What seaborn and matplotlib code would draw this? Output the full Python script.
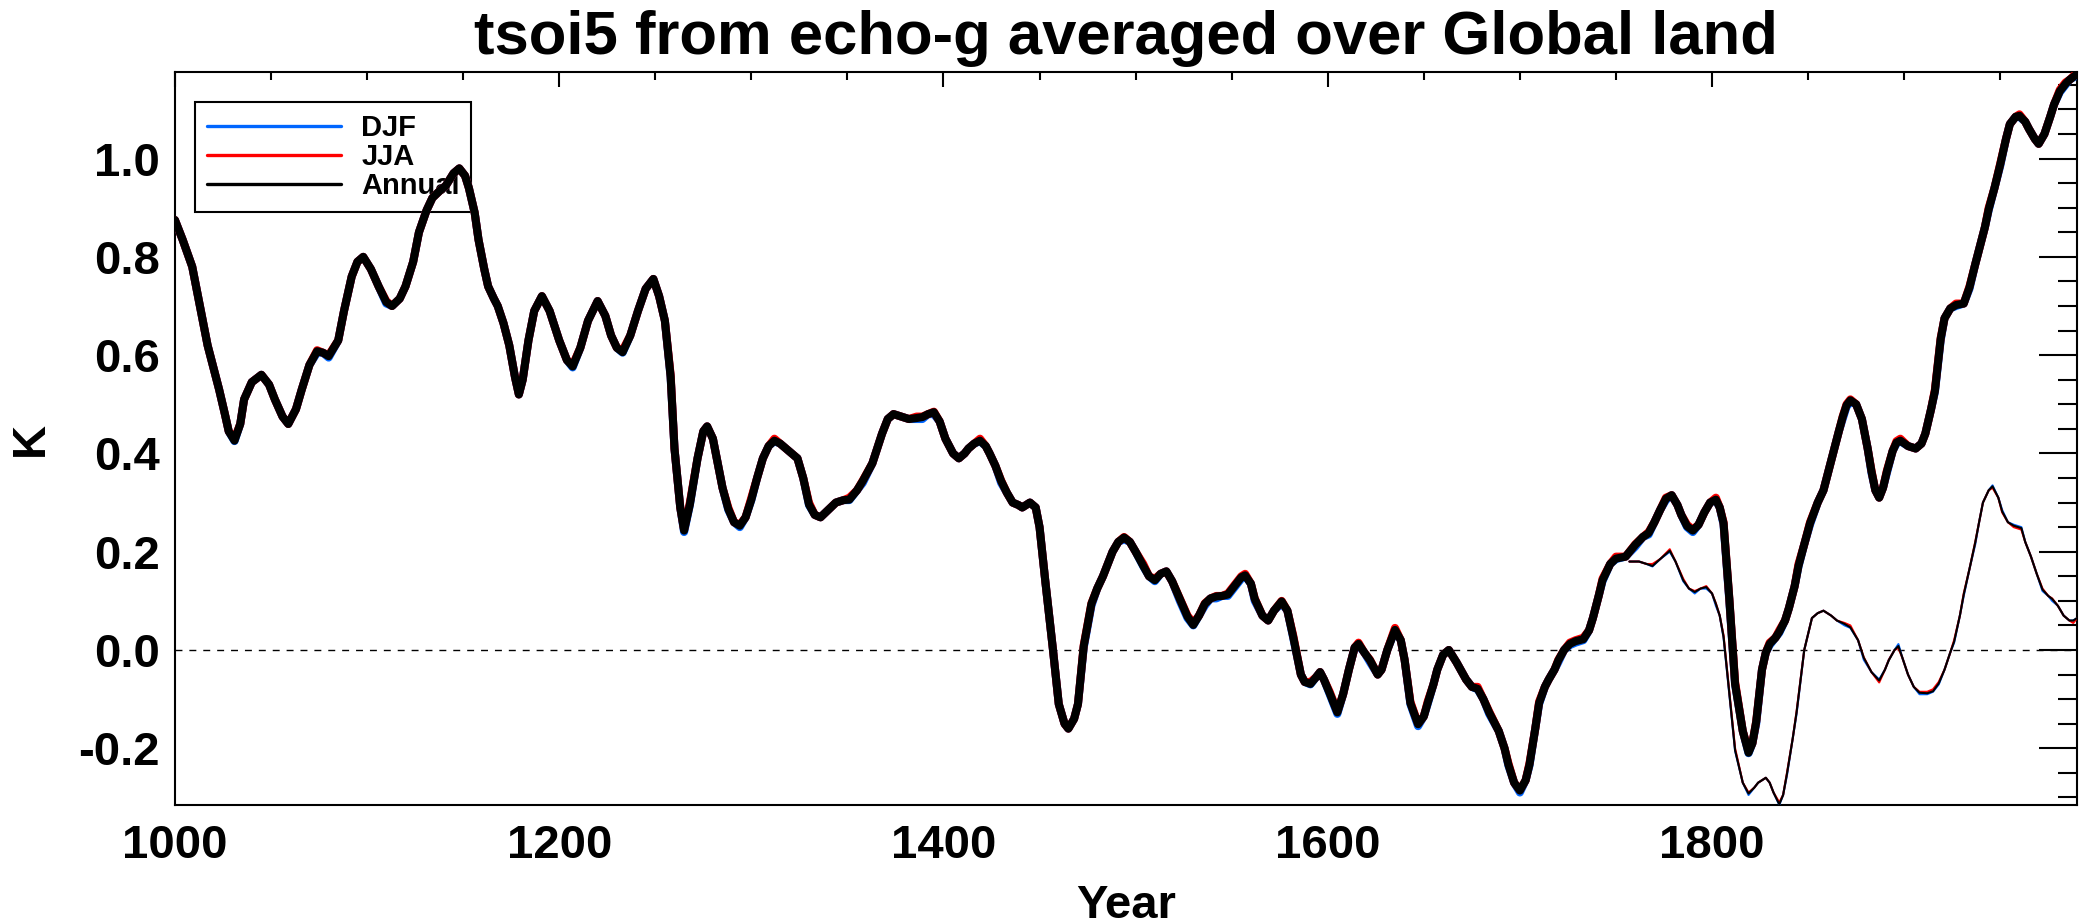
import seaborn as sns
import matplotlib.pyplot as plt
from matplotlib.lines import Line2D
from matplotlib.ticker import MultipleLocator, FormatStrFormatter

# thick curves: full period
years = [
    1000, 1004, 1009, 1013, 1017, 1020, 1023, 1026, 1028, 1031,
    1034, 1036, 1040, 1045, 1049, 1052, 1056, 1059, 1063, 1066,
    1070, 1074, 1077, 1080, 1085, 1088, 1092, 1095, 1098, 1102,
    1106, 1110, 1113, 1117, 1120, 1124, 1127, 1131, 1134, 1138,
    1141, 1145, 1148, 1151, 1153, 1156, 1158, 1161, 1163, 1166,
    1168, 1171, 1174, 1177, 1179, 1181, 1184, 1187, 1191, 1195,
    1200, 1204, 1207, 1211, 1215, 1220, 1224, 1227, 1230, 1233,
    1237, 1241, 1245, 1249, 1252, 1255, 1258, 1260, 1263, 1265,
    1268, 1272, 1275, 1277, 1280, 1282, 1285, 1288, 1291, 1294,
    1297, 1300, 1303, 1306, 1309, 1312, 1315, 1318, 1321, 1324,
    1327, 1330, 1333, 1336, 1340, 1344, 1348, 1351, 1355, 1358,
    1363, 1368, 1371, 1374, 1378, 1382, 1386, 1389, 1392, 1395,
    1398, 1401, 1405, 1408, 1411, 1413, 1416, 1419, 1422, 1424,
    1427, 1430, 1433, 1436, 1439, 1441, 1445, 1448, 1450, 1453,
    1457, 1460, 1463, 1465, 1468, 1470, 1473, 1477, 1480, 1483,
    1488, 1491, 1494, 1497, 1500, 1504, 1507, 1510, 1513, 1516,
    1519, 1523, 1527, 1530, 1533, 1536, 1539, 1542, 1545, 1548,
    1552, 1555, 1557, 1560, 1562, 1566, 1569, 1572, 1576, 1579,
    1582, 1586, 1588, 1591, 1594, 1596, 1598, 1601, 1605, 1608,
    1611, 1614, 1616, 1619, 1622, 1626, 1628, 1631, 1635, 1638,
    1640, 1643, 1647, 1650, 1652, 1655, 1657, 1660, 1663, 1667,
    1672, 1675, 1678, 1681, 1684, 1689, 1692, 1694, 1697, 1700,
    1703, 1705, 1708, 1710, 1713, 1715, 1718, 1720, 1723, 1726,
    1729, 1733, 1736, 1738, 1741, 1743, 1747, 1750, 1755, 1760,
    1764, 1767, 1770, 1773, 1776, 1779, 1782, 1784, 1787, 1790,
    1793, 1796, 1799, 1802, 1804, 1806, 1809, 1812, 1816, 1819,
    1821, 1823, 1826, 1828, 1830, 1833, 1835, 1838, 1840, 1843,
    1845, 1848, 1851, 1855, 1858, 1861, 1863, 1866, 1868, 1870,
    1872, 1875, 1878, 1881, 1883, 1885, 1887, 1889, 1891, 1894,
    1896, 1898, 1902, 1906, 1909, 1911, 1914, 1916, 1919, 1921,
    1924, 1927, 1931, 1934, 1937, 1939, 1942, 1944, 1947, 1950,
    1953, 1955, 1958, 1960, 1963, 1965, 1968, 1970, 1973, 1976,
    1978, 1981, 1984, 1986, 1990,
]

annual = [
    0.875, 0.835, 0.78, 0.70, 0.62, 0.575, 0.53, 0.48, 0.445, 0.426,
    0.46, 0.51, 0.545, 0.56, 0.54, 0.51, 0.475, 0.46, 0.49, 0.53,
    0.58, 0.608, 0.605, 0.598, 0.63, 0.69, 0.76, 0.79, 0.80, 0.775,
    0.74, 0.708, 0.70, 0.715, 0.74, 0.79, 0.85, 0.895, 0.92, 0.935,
    0.945, 0.97, 0.98, 0.965, 0.94, 0.89, 0.835, 0.775, 0.74, 0.715,
    0.70, 0.665, 0.62, 0.555, 0.52, 0.55, 0.63, 0.69, 0.72, 0.69,
    0.63, 0.59, 0.577, 0.615, 0.67, 0.71, 0.68, 0.64, 0.615, 0.606,
    0.64, 0.69, 0.735, 0.755, 0.72, 0.67, 0.556, 0.41, 0.29, 0.243,
    0.296, 0.39, 0.445, 0.455, 0.43, 0.39, 0.33, 0.287, 0.26, 0.253,
    0.27, 0.306, 0.35, 0.39, 0.415, 0.426, 0.42, 0.41, 0.40, 0.39,
    0.35, 0.296, 0.275, 0.27, 0.285, 0.30, 0.305, 0.306, 0.325, 0.344,
    0.38, 0.44, 0.47, 0.48, 0.475, 0.47, 0.472, 0.474, 0.48, 0.484,
    0.465, 0.43, 0.40, 0.39, 0.40, 0.41, 0.42, 0.426, 0.415, 0.40,
    0.375, 0.344, 0.32, 0.30, 0.295, 0.29, 0.30, 0.29, 0.25, 0.14,
    0.0, -0.11, -0.15, -0.16, -0.14, -0.11, 0.008, 0.094, 0.125, 0.15,
    0.20, 0.22, 0.229, 0.22, 0.20, 0.171, 0.15, 0.142, 0.155, 0.16,
    0.14, 0.104, 0.068, 0.051, 0.07, 0.094, 0.105, 0.109, 0.11, 0.113,
    0.133, 0.148, 0.152, 0.135, 0.104, 0.07, 0.06, 0.08, 0.099, 0.08,
    0.027, -0.05, -0.065, -0.069, -0.055, -0.045, -0.06, -0.088, -0.127, -0.09,
    -0.04, 0.005, 0.0125, -0.005, -0.021, -0.05, -0.04, 0.0, 0.041, 0.02,
    -0.02, -0.108, -0.151, -0.135, -0.108, -0.07, -0.04, -0.01, 0.0, -0.025,
    -0.06, -0.075, -0.079, -0.10, -0.127, -0.165, -0.20, -0.233, -0.27, -0.286,
    -0.265, -0.233, -0.16, -0.108, -0.075, -0.06, -0.04, -0.021, 0.0, 0.0125,
    0.018, 0.022, 0.04, 0.065, 0.11, 0.142, 0.175, 0.186, 0.19, 0.214,
    0.23, 0.238, 0.26, 0.285, 0.308, 0.315, 0.295, 0.275, 0.252, 0.243,
    0.255, 0.28, 0.30, 0.306, 0.29, 0.258, 0.104, -0.069, -0.165, -0.209,
    -0.19, -0.146, -0.04, -0.005, 0.0125, 0.025, 0.037, 0.06, 0.085, 0.13,
    0.171, 0.215, 0.258, 0.30, 0.325, 0.37, 0.40, 0.445, 0.474, 0.498,
    0.508, 0.50, 0.47, 0.41, 0.363, 0.325, 0.31, 0.33, 0.363, 0.405,
    0.422, 0.426, 0.415, 0.41, 0.42, 0.44, 0.49, 0.527, 0.633, 0.675,
    0.695, 0.702, 0.705, 0.738, 0.785, 0.815, 0.86, 0.897, 0.94, 0.988,
    1.04, 1.07, 1.085, 1.087, 1.075, 1.06, 1.04, 1.03, 1.05, 1.085,
    1.11, 1.137, 1.152, 1.16, 1.172,
]

djf = [
    0.875, 0.835, 0.78, 0.70, 0.62, 0.575, 0.53, 0.48, 0.445, 0.425,
    0.46, 0.51, 0.545, 0.56, 0.54, 0.51, 0.475, 0.46, 0.49, 0.53,
    0.58, 0.605, 0.605, 0.595, 0.63, 0.69, 0.76, 0.79, 0.80, 0.775,
    0.74, 0.705, 0.70, 0.715, 0.74, 0.79, 0.85, 0.895, 0.92, 0.935,
    0.945, 0.97, 0.98, 0.965, 0.94, 0.89, 0.835, 0.775, 0.74, 0.715,
    0.70, 0.665, 0.62, 0.555, 0.52, 0.55, 0.63, 0.69, 0.72, 0.69,
    0.63, 0.59, 0.575, 0.615, 0.67, 0.71, 0.68, 0.64, 0.615, 0.605,
    0.64, 0.69, 0.735, 0.755, 0.72, 0.67, 0.555, 0.41, 0.29, 0.24,
    0.295, 0.39, 0.445, 0.455, 0.43, 0.39, 0.33, 0.285, 0.26, 0.25,
    0.27, 0.305, 0.35, 0.39, 0.415, 0.425, 0.42, 0.41, 0.40, 0.39,
    0.35, 0.295, 0.275, 0.27, 0.285, 0.30, 0.305, 0.305, 0.325, 0.34,
    0.38, 0.44, 0.47, 0.48, 0.475, 0.47, 0.47, 0.47, 0.48, 0.48,
    0.465, 0.43, 0.40, 0.39, 0.40, 0.41, 0.42, 0.425, 0.415, 0.40,
    0.375, 0.34, 0.32, 0.30, 0.295, 0.29, 0.30, 0.29, 0.25, 0.14,
    0.0, -0.11, -0.15, -0.16, -0.14, -0.11, 0.005, 0.09, 0.125, 0.15,
    0.20, 0.22, 0.225, 0.22, 0.20, 0.17, 0.15, 0.14, 0.155, 0.16,
    0.14, 0.10, 0.065, 0.05, 0.07, 0.09, 0.105, 0.105, 0.11, 0.11,
    0.13, 0.145, 0.15, 0.135, 0.10, 0.07, 0.06, 0.08, 0.095, 0.08,
    0.025, -0.05, -0.065, -0.07, -0.055, -0.045, -0.06, -0.09, -0.13, -0.09,
    -0.04, 0.005, 0.01, -0.005, -0.025, -0.05, -0.04, 0.0, 0.04, 0.02,
    -0.02, -0.11, -0.155, -0.135, -0.11, -0.07, -0.04, -0.01, 0.0, -0.025,
    -0.06, -0.075, -0.08, -0.10, -0.13, -0.165, -0.20, -0.235, -0.27, -0.29,
    -0.265, -0.235, -0.16, -0.11, -0.075, -0.06, -0.04, -0.025, 0.0, 0.01,
    0.015, 0.02, 0.04, 0.065, 0.11, 0.14, 0.175, 0.185, 0.19, 0.21,
    0.23, 0.235, 0.26, 0.285, 0.305, 0.315, 0.295, 0.275, 0.25, 0.24,
    0.255, 0.28, 0.30, 0.305, 0.29, 0.255, 0.10, -0.07, -0.165, -0.21,
    -0.19, -0.15, -0.04, -0.005, 0.01, 0.025, 0.035, 0.06, 0.085, 0.13,
    0.17, 0.215, 0.255, 0.30, 0.325, 0.37, 0.40, 0.445, 0.47, 0.495,
    0.505, 0.50, 0.47, 0.41, 0.36, 0.325, 0.31, 0.33, 0.36, 0.405,
    0.42, 0.425, 0.415, 0.41, 0.42, 0.44, 0.49, 0.525, 0.63, 0.675,
    0.695, 0.70, 0.705, 0.735, 0.785, 0.815, 0.86, 0.895, 0.94, 0.985,
    1.04, 1.07, 1.085, 1.085, 1.075, 1.06, 1.04, 1.03, 1.05, 1.085,
    1.11, 1.135, 1.15, 1.16, 1.17,
]

jja = [
    0.875, 0.835, 0.78, 0.70, 0.62, 0.575, 0.53, 0.48, 0.445, 0.43,
    0.46, 0.51, 0.545, 0.56, 0.54, 0.51, 0.475, 0.46, 0.49, 0.53,
    0.58, 0.61, 0.605, 0.60, 0.63, 0.69, 0.76, 0.79, 0.80, 0.775,
    0.74, 0.71, 0.70, 0.715, 0.74, 0.79, 0.85, 0.895, 0.92, 0.935,
    0.945, 0.97, 0.98, 0.965, 0.94, 0.89, 0.835, 0.775, 0.74, 0.715,
    0.70, 0.665, 0.62, 0.555, 0.52, 0.55, 0.63, 0.69, 0.72, 0.69,
    0.63, 0.59, 0.58, 0.615, 0.67, 0.71, 0.68, 0.64, 0.615, 0.61,
    0.64, 0.69, 0.735, 0.755, 0.72, 0.67, 0.56, 0.41, 0.29, 0.245,
    0.30, 0.39, 0.445, 0.455, 0.43, 0.39, 0.33, 0.29, 0.26, 0.255,
    0.27, 0.31, 0.35, 0.39, 0.415, 0.43, 0.42, 0.41, 0.40, 0.39,
    0.35, 0.30, 0.275, 0.27, 0.285, 0.30, 0.305, 0.31, 0.325, 0.345,
    0.38, 0.44, 0.47, 0.48, 0.475, 0.47, 0.475, 0.475, 0.48, 0.485,
    0.465, 0.43, 0.40, 0.39, 0.40, 0.41, 0.42, 0.43, 0.415, 0.40,
    0.375, 0.345, 0.32, 0.30, 0.295, 0.29, 0.30, 0.29, 0.25, 0.14,
    0.0, -0.11, -0.15, -0.16, -0.14, -0.11, 0.01, 0.095, 0.125, 0.15,
    0.20, 0.22, 0.23, 0.22, 0.20, 0.175, 0.15, 0.145, 0.155, 0.16,
    0.14, 0.105, 0.07, 0.055, 0.07, 0.095, 0.105, 0.11, 0.11, 0.115,
    0.135, 0.15, 0.155, 0.135, 0.105, 0.07, 0.06, 0.08, 0.10, 0.08,
    0.03, -0.05, -0.065, -0.065, -0.055, -0.045, -0.06, -0.085, -0.125, -0.09,
    -0.04, 0.005, 0.015, -0.005, -0.02, -0.05, -0.04, 0.0, 0.045, 0.02,
    -0.02, -0.105, -0.15, -0.135, -0.105, -0.07, -0.04, -0.01, 0.0, -0.025,
    -0.06, -0.075, -0.075, -0.10, -0.125, -0.165, -0.20, -0.23, -0.27, -0.285,
    -0.265, -0.23, -0.16, -0.105, -0.075, -0.06, -0.04, -0.02, 0.0, 0.015,
    0.02, 0.025, 0.04, 0.065, 0.11, 0.145, 0.175, 0.19, 0.19, 0.215,
    0.23, 0.24, 0.26, 0.285, 0.31, 0.315, 0.295, 0.275, 0.255, 0.245,
    0.255, 0.28, 0.30, 0.31, 0.29, 0.26, 0.105, -0.065, -0.165, -0.205,
    -0.19, -0.145, -0.04, -0.005, 0.015, 0.025, 0.04, 0.06, 0.085, 0.13,
    0.175, 0.215, 0.26, 0.30, 0.325, 0.37, 0.40, 0.445, 0.475, 0.50,
    0.51, 0.50, 0.47, 0.41, 0.365, 0.325, 0.31, 0.33, 0.365, 0.405,
    0.425, 0.43, 0.415, 0.41, 0.42, 0.44, 0.49, 0.53, 0.635, 0.675,
    0.695, 0.705, 0.705, 0.74, 0.785, 0.815, 0.86, 0.90, 0.94, 0.99,
    1.04, 1.07, 1.085, 1.09, 1.075, 1.06, 1.04, 1.03, 1.05, 1.085,
    1.11, 1.14, 1.155, 1.16, 1.175,
]

# thin curves: second set, from the mid 18th century
years_thin = [
    1757, 1762, 1766, 1769, 1773, 1778, 1781, 1785, 1788, 1791,
    1794, 1797, 1800, 1802, 1804, 1806, 1809, 1812, 1816, 1819,
    1822, 1824, 1828, 1830, 1832, 1835, 1837, 1839, 1842, 1844,
    1848, 1852, 1855, 1858, 1862, 1865, 1869, 1872, 1876, 1879,
    1883, 1887, 1890, 1892, 1895, 1897, 1899, 1902, 1905, 1908,
    1912, 1915, 1918, 1921, 1924, 1926, 1929, 1931, 1934, 1937,
    1939, 1941, 1944, 1946, 1949, 1951, 1954, 1957, 1961, 1963,
    1966, 1969, 1972, 1975, 1977, 1980, 1983, 1986, 1988, 1990,
]

annual_thin = [
    0.18, 0.18, 0.175, 0.171, 0.185, 0.202, 0.18, 0.142, 0.125, 0.118,
    0.125, 0.128, 0.115, 0.094, 0.07, 0.027, -0.088, -0.204, -0.27, -0.292,
    -0.28, -0.27, -0.26, -0.27, -0.29, -0.314, -0.295, -0.252, -0.18, -0.127,
    0.0, 0.065, 0.075, 0.08, 0.07, 0.06, 0.053, 0.046, 0.02, -0.016,
    -0.045, -0.062, -0.04, -0.021, 0.0, 0.008, -0.015, -0.05, -0.075, -0.087,
    -0.088, -0.084, -0.068, -0.04, -0.005, 0.017, 0.07, 0.113, 0.165, 0.219,
    0.26, 0.30, 0.325, 0.333, 0.31, 0.282, 0.26, 0.253, 0.248, 0.22,
    0.19, 0.155, 0.123, 0.11, 0.104, 0.09, 0.07, 0.06, 0.06, 0.065,
]

djf_thin = [
    0.18, 0.18, 0.175, 0.17, 0.185, 0.20, 0.18, 0.14, 0.125, 0.115,
    0.125, 0.125, 0.115, 0.09, 0.07, 0.025, -0.09, -0.205, -0.27, -0.295,
    -0.28, -0.27, -0.26, -0.27, -0.29, -0.315, -0.295, -0.255, -0.18, -0.13,
    0.0, 0.065, 0.075, 0.08, 0.07, 0.06, 0.05, 0.045, 0.02, -0.02,
    -0.045, -0.06, -0.04, -0.02, 0.0, 0.012, -0.015, -0.05, -0.075, -0.09,
    -0.09, -0.085, -0.07, -0.04, -0.005, 0.015, 0.07, 0.11, 0.165, 0.215,
    0.26, 0.30, 0.325, 0.335, 0.31, 0.285, 0.26, 0.255, 0.25, 0.22,
    0.19, 0.155, 0.12, 0.11, 0.10, 0.09, 0.07, 0.06, 0.06, 0.065,
]

jja_thin = [
    0.18, 0.18, 0.175, 0.175, 0.185, 0.205, 0.18, 0.145, 0.125, 0.12,
    0.125, 0.13, 0.115, 0.095, 0.07, 0.03, -0.085, -0.20, -0.27, -0.29,
    -0.28, -0.27, -0.26, -0.27, -0.29, -0.31, -0.295, -0.25, -0.18, -0.125,
    0.0, 0.065, 0.075, 0.08, 0.07, 0.06, 0.055, 0.05, 0.02, -0.015,
    -0.045, -0.066, -0.04, -0.02, 0.0, 0.004, -0.015, -0.05, -0.075, -0.085,
    -0.085, -0.08, -0.065, -0.04, -0.005, 0.02, 0.07, 0.115, 0.165, 0.22,
    0.26, 0.30, 0.325, 0.33, 0.31, 0.28, 0.26, 0.25, 0.245, 0.22,
    0.19, 0.155, 0.125, 0.11, 0.105, 0.09, 0.07, 0.06, 0.055, 0.065,
]

series_names = ['DJF', 'JJA', 'Annual']
series_colors = ['#0066ff', '#ff0000', '#000000']

sns.set_theme(style='white')
plt.rcParams['font.family'] = ['Liberation Sans', 'DejaVu Sans']
plt.rcParams['font.weight'] = 'bold'
plt.rcParams['axes.labelweight'] = 'bold'
plt.rcParams['axes.titleweight'] = 'bold'
plt.rcParams['text.color'] = 'black'
plt.rcParams['axes.labelcolor'] = 'black'
plt.rcParams['xtick.color'] = 'black'
plt.rcParams['ytick.color'] = 'black'
plt.rcParams['axes.edgecolor'] = 'black'

fig = plt.figure(figsize=(20.8, 9.24), dpi=100)
ax = fig.add_axes([0.0841, 0.129, 0.9145, 0.793])

ax.axhline(0, color='black', linewidth=1.0, linestyle=(0, (5, 5)), zorder=1)

for vals, col in zip([djf, jja, annual], series_colors):
    sns.lineplot(x=years, y=vals, color=col, linewidth=5.8, ax=ax, zorder=3)
for vals, col in zip([djf_thin, jja_thin, annual_thin], series_colors):
    sns.lineplot(x=years_thin, y=vals, color=col, linewidth=1.5, ax=ax, zorder=4)

ax.set_xlim(1000, 1990)
ax.set_ylim(-0.315, 1.176)
ax.xaxis.set_major_locator(MultipleLocator(200))
ax.xaxis.set_minor_locator(MultipleLocator(50))
ax.yaxis.set_major_locator(MultipleLocator(0.2))
ax.yaxis.set_minor_locator(MultipleLocator(0.05))
ax.xaxis.set_major_formatter(FormatStrFormatter('%d'))
ax.yaxis.set_major_formatter(FormatStrFormatter('%.1f'))

ax.tick_params(which='both', direction='in', top=True, right=True, width=1.5)
ax.tick_params(axis='x', which='major', length=10.8, pad=14, labelsize=34)
ax.tick_params(axis='x', which='minor', length=5.4)
ax.tick_params(axis='y', which='major', length=27.4, pad=11, labelsize=34)
ax.tick_params(axis='y', which='minor', length=13.7)
for sp in ax.spines.values():
    sp.set_visible(True)
    sp.set_linewidth(1.5)
    sp.set_color('black')

ax.set_title('tsoi5 from echo-g averaged over Global land', fontsize=44.4, pad=13)
ax.set_xlabel('Year', fontsize=34, labelpad=11)
ax.set_ylabel('K', fontsize=34, labelpad=18)

handles = [Line2D([], [], color=c, linewidth=2.4) for c in series_colors]
leg = ax.legend(handles, series_names, loc='upper left', bbox_to_anchor=(0.0105, 0.959),
                borderaxespad=0, frameon=True, fancybox=False, edgecolor='black',
                framealpha=1, prop={'weight': 'bold', 'size': 21}, handlelength=4.6,
                handletextpad=0.7, labelspacing=0.04, borderpad=0.4)
leg.get_frame().set_linewidth(1.5)
leg.set_zorder(2)

plt.savefig('out.png', dpi=100)
